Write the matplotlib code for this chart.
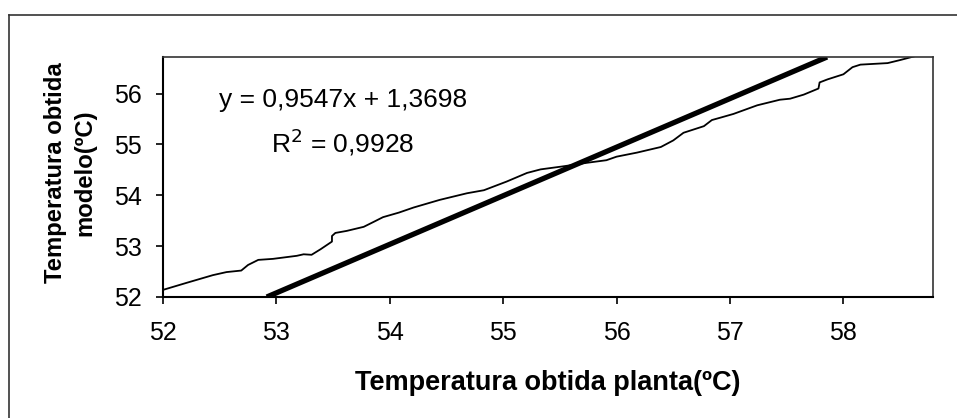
import matplotlib
matplotlib.use("Agg")
import matplotlib.pyplot as plt
from matplotlib.lines import Line2D

plt.rcParams['font.family'] = ['Liberation Sans', 'DejaVu Sans']

# Thin curve: model temperature vs plant temperature
planta = [52.00, 52.21, 52.44, 52.56, 52.69, 52.75, 52.84, 52.97, 53.18, 53.24, 53.31,
          53.39, 53.49, 53.49, 53.52, 53.62, 53.77, 53.86, 53.94, 54.08, 54.21, 54.44,
          54.68, 54.83, 55.03, 55.21, 55.33, 55.53, 55.74, 55.91, 56.00, 56.18, 56.39,
          56.50, 56.59, 56.77, 56.84, 56.92, 57.03, 57.24, 57.44, 57.53, 57.65, 57.78,
          57.79, 57.86, 58.00, 58.08, 58.15, 58.39, 58.50, 58.62]
modelo = [52.14, 52.28, 52.43, 52.49, 52.52, 52.63, 52.73, 52.75, 52.81, 52.84, 52.83,
          52.94, 53.09, 53.20, 53.26, 53.30, 53.38, 53.48, 53.57, 53.66, 53.76, 53.91,
          54.04, 54.10, 54.27, 54.44, 54.51, 54.57, 54.64, 54.69, 54.76, 54.84, 54.95,
          55.08, 55.23, 55.36, 55.48, 55.53, 55.60, 55.77, 55.88, 55.90, 55.98, 56.10,
          56.22, 56.28, 56.38, 56.52, 56.57, 56.60, 56.66, 56.73]

# Thick straight line (endpoints)
linha_x = [52.915, 57.856]
linha_y = [52.00, 56.72]

xticks = [52, 53, 54, 55, 56, 57, 58]
yticks = [52, 53, 54, 55, 56]
equacao = "y = 0,9547x + 1,3698"
r2 = "R$^2$ = 0,9928"
xlabel = "Temperatura obtida planta(ºC)"
ylabel = "Temperatura obtida\nmodelo(ºC)"

W, H = 957, 418
fig = plt.figure(figsize=(W / 100, H / 100), dpi=100)
ax = fig.add_axes([163 / W, 1 - 297 / H, (933 - 163) / W, (297 - 57) / H])

ax.plot(planta, modelo, color='black', lw=1.3, solid_joinstyle='round')
ax.plot(linha_x, linha_y, color='black', lw=3.8, solid_capstyle='butt')

ax.set_xlim(52, 58.79)
ax.set_ylim(52, 56.72)
ax.set_xticks(xticks)
ax.set_yticks(yticks)
ax.set_xticklabels([str(t) for t in xticks])
ax.set_yticklabels([str(t) for t in yticks])
for s in ['top', 'right']:
    ax.spines[s].set_color('#333333')
    ax.spines[s].set_linewidth(1.2)
for s in ['left', 'bottom']:
    ax.spines[s].set_color('black')
    ax.spines[s].set_linewidth(1.5)
ax.tick_params(direction='out', length=5, width=1.2, labelsize=18)
ax.tick_params(axis='x', pad=12)
ax.tick_params(axis='y', pad=10)

fig.text(343 / W, 1 - 100 / H, equacao, ha='center', va='center', fontsize=19)
fig.text(343 / W, 1 - 142 / H, r2, ha='center', va='center', fontsize=19)

fig.text(548 / W, 1 - 383 / H, xlabel, ha='center', va='center', fontsize=19.5, fontweight='bold')
fig.text(70 / W, 1 - 173 / H, ylabel, ha='center', va='center', fontsize=17.2, fontweight='bold',
         rotation=90, linespacing=1.35, multialignment='center')

# Outer chart-area border (left and top visible)
fig.add_artist(Line2D([9 / W, 9 / W], [0, 1 - 15 / H], transform=fig.transFigure, color='#333333', lw=1.2))
fig.add_artist(Line2D([9 / W, 1], [1 - 15 / H, 1 - 15 / H], transform=fig.transFigure, color='#333333', lw=1.2))

fig.savefig('out.png', dpi=100)
